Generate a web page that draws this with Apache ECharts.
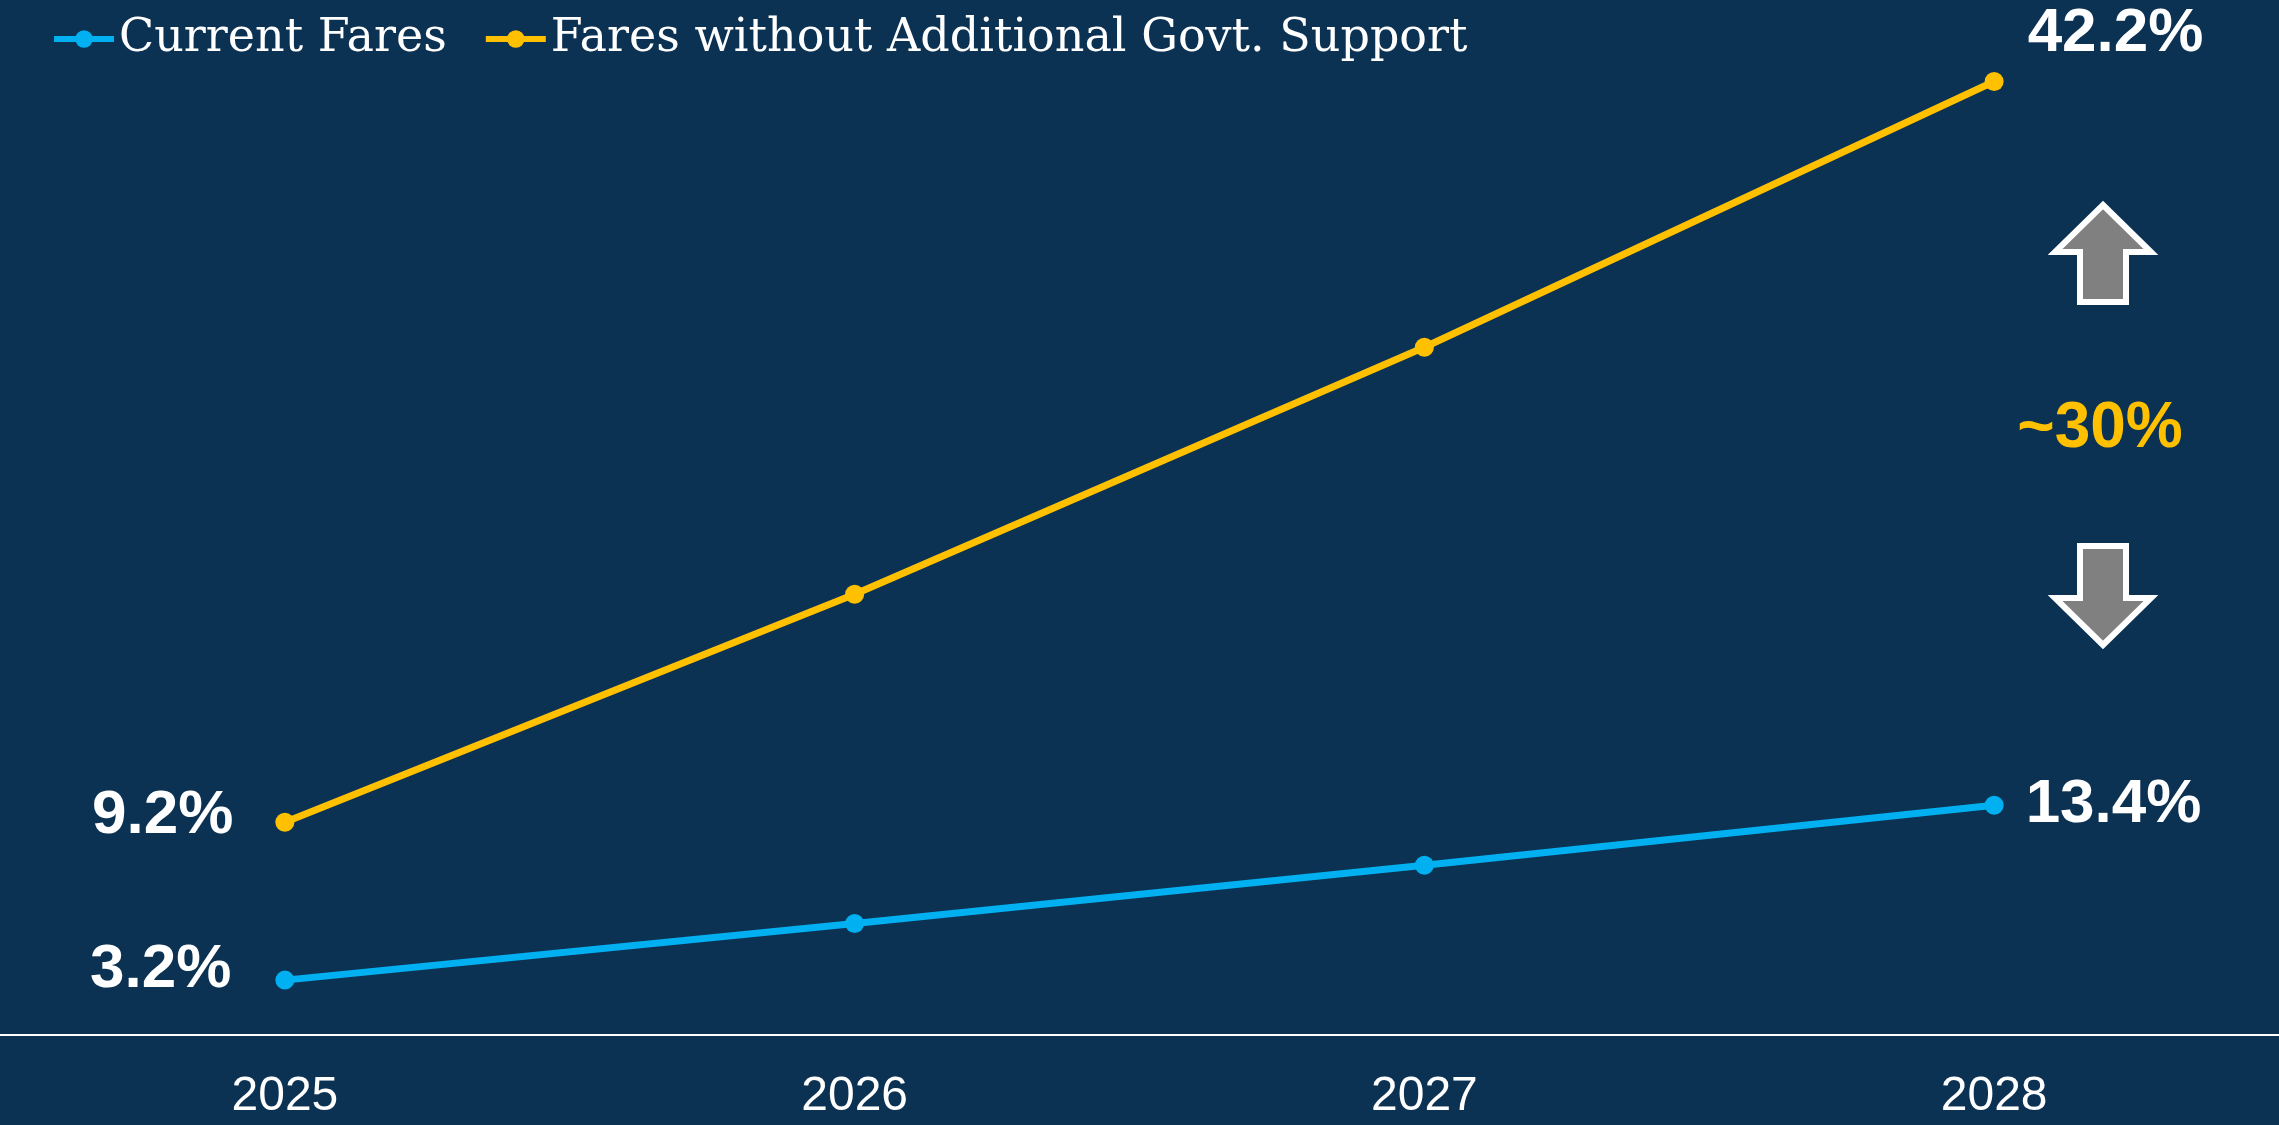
<!DOCTYPE html>
<html>
<head>
<meta charset="utf-8">
<style>
html,body{margin:0;padding:0;background:#0B3153;}
#chart{width:2279px;height:1125px;}
</style>
<script src="https://cdn.jsdelivr.net/npm/echarts@6/dist/echarts.min.js"></script>
</head>
<body>
<div id="chart"></div>
<script>
const years = ['2025', '2026', '2027', '2028'];
const currentFares = [3.2, 6.5, 9.9, 13.4];
const withoutSupport = [9.2, 19.2, 30.2, 42.2];
const gapLabel = '~30%';

const chart = echarts.init(document.getElementById('chart'));
const labelFont = { color: '#FFFFFF', fontFamily: 'Liberation Sans, Arial', fontWeight: 'bold', fontSize: 62 };

function build(values, leftDist, leftOffset, rightDist, rightOffset) {
  return values.map((v, i) => {
    if (i === 0) return { value: v, label: Object.assign({ show: true, position: 'left', distance: leftDist, offset: leftOffset, formatter: '{c}%' }, labelFont) };
    if (i === values.length - 1) return { value: v, label: Object.assign({ show: true, position: 'right', distance: rightDist, offset: rightOffset, formatter: '{c}%' }, labelFont) };
    return v;
  });
}

chart.setOption({
  backgroundColor: '#0B3153',
  animation: false,
  legend: {
    left: 46, top: 11,
    itemWidth: 60, itemHeight: 22, itemGap: 36,
    lineStyle: { width: 6 },
    textStyle: { color: '#FFFFFF', fontFamily: 'DejaVu Serif', fontSize: 46 },
    data: ['Current Fares', 'Fares without Additional Govt. Support']
  },
  grid: { left: 0, right: 0, top: 6, bottom: 90 },
  xAxis: {
    type: 'category', data: years, boundaryGap: true,
    axisLine: { lineStyle: { color: '#FFFFFF', width: 2 } },
    axisTick: { show: false },
    axisLabel: { color: '#FFFFFF', fontFamily: 'Liberation Sans, Arial', fontSize: 48, margin: 38 }
  },
  yAxis: { type: 'value', min: 0, max: 60, show: false, splitLine: { show: false } },
  series: [
    {
      name: 'Current Fares', type: 'line', stack: 'total',
      data: build(currentFares, 44, [0, -10], 22, [0, 0]),
      symbol: 'circle', symbolSize: 19,
      lineStyle: { color: '#00B0F0', width: 7 },
      itemStyle: { color: '#00B0F0' }
    },
    {
      name: 'Fares without Additional Govt. Support', type: 'line', stack: 'total',
      data: build(withoutSupport, 42, [0, -6], 24, [0, -48]),
      symbol: 'circle', symbolSize: 19,
      lineStyle: { color: '#FFC000', width: 7 },
      itemStyle: { color: '#FFC000' }
    }
  ],
  graphic: [
    { type: 'polygon', shape: { points: [[2103,205],[2151,252],[2126,252],[2126,302],[2080,302],[2080,252],[2055,252]] }, style: { fill: '#808080', stroke: '#FFFFFF', lineWidth: 6 } },
    { type: 'polygon', shape: { points: [[2080,546],[2126,546],[2126,598],[2151,598],[2103,645],[2055,598],[2080,598]] }, style: { fill: '#808080', stroke: '#FFFFFF', lineWidth: 6 } },
    { type: 'text', x: 2100, y: 429, style: { text: gapLabel, fill: '#FFC000', font: 'bold 64px "Liberation Sans", Arial', textAlign: 'center', textVerticalAlign: 'middle' } }
  ]
});
</script>
</body>
</html>
